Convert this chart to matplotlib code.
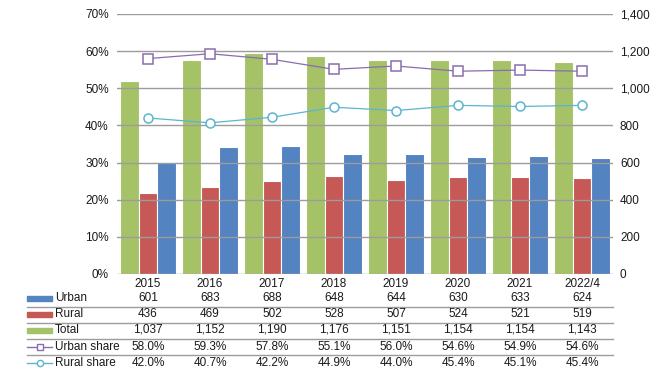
import numpy as np
import matplotlib.pyplot as plt
from matplotlib.patches import Rectangle
from matplotlib.lines import Line2D

plt.rcParams['font.family'] = ['Liberation Sans', 'DejaVu Sans']

years = ['2015', '2016', '2017', '2018', '2019', '2020', '2021', '2022/4']
urban = [601, 683, 688, 648, 644, 630, 633, 624]
rural = [436, 469, 502, 528, 507, 524, 521, 519]
total = [1037, 1152, 1190, 1176, 1151, 1154, 1154, 1143]
urban_share = [58.0, 59.3, 57.8, 55.1, 56.0, 54.6, 54.9, 54.6]
rural_share = [42.0, 40.7, 42.2, 44.9, 44.0, 45.4, 45.1, 45.4]

c_green = '#A5C267'
c_red = '#C65855'
c_blue = '#5383C0'
c_purple = '#8A6DAE'
c_teal = '#5BB5CF'
c_grid = '#9C9C9C'
c_text = '#1A1A1A'

W, H = 657, 379
fig = plt.figure(figsize=(W / 100, H / 100), dpi=100)
ax = fig.add_axes([117 / W, 1 - 274 / H, 496 / W, 260 / H])
ax2 = ax.twinx()

x = np.arange(len(years))
bw = 0.3
ax2.bar(x - bw, total, bw, color=c_green, edgecolor='white', linewidth=0.8)
ax2.bar(x, rural, bw, color=c_red, edgecolor='white', linewidth=0.8)
ax2.bar(x + bw, urban, bw, color=c_blue, edgecolor='white', linewidth=0.8)
ax2.set_ylim(0, 1400)
ax2.set_yticks(range(0, 1401, 200))
ax2.set_yticklabels([f'{v:,}' for v in range(0, 1401, 200)])

ax.set_ylim(0, 70)
ax.set_yticks(range(0, 71, 10))
ax.set_yticklabels([f'{v}%' for v in range(0, 71, 10)])
ax.set_xlim(-0.5, len(years) - 0.5)
ax.set_xticks([])
for v in range(0, 71, 10):
    ax.axhline(v, color=c_grid, lw=1, zorder=0)

# lines on top of bars
ax.set_zorder(ax2.get_zorder() + 1)
ax.patch.set_visible(False)
ax.plot(x, urban_share, color=c_purple, lw=0.9, marker='s', ms=6.5,
        mfc='white', mec=c_purple, mew=1.1)
ax.plot(x, rural_share, color=c_teal, lw=0.9, marker='o', ms=6.5,
        mfc='white', mec=c_teal, mew=1.1)

for a in (ax, ax2):
    for s in a.spines.values():
        s.set_visible(False)
    a.tick_params(length=0, labelsize=8.5, colors=c_text)
ax.tick_params(pad=6)
ax2.tick_params(pad=5)

# data table
def fy(py):
    return 1 - py / H

xs = [(117 + 31 + 62 * i) / W for i in range(len(years))]
for xi, yr in zip(xs, years):
    fig.text(xi, fy(284), yr, ha='center', va='center', fontsize=8.5, color=c_text)

rows = [
    ('Urban', [f'{v:,}' for v in urban], 'bar', c_blue, 298),
    ('Rural', [f'{v:,}' for v in rural], 'bar', c_red, 314),
    ('Total', [f'{v:,}' for v in total], 'bar', c_green, 330),
    ('Urban share', [f'{v:.1f}%' for v in urban_share], 's', c_purple, 347),
    ('Rural share', [f'{v:.1f}%' for v in rural_share], 'o', c_teal, 363),
]
for name, vals, kind, col, py in rows:
    if kind == 'bar':
        fig.patches.append(Rectangle((27 / W, fy(py + 2.5)), 25 / W, 5 / H,
                                     color=col, transform=fig.transFigure))
    else:
        fig.lines.append(Line2D([27 / W, 52 / W], [fy(py), fy(py)], color=col, lw=1,
                                transform=fig.transFigure))
        fig.lines.append(Line2D([39.5 / W], [fy(py)], color=col, marker=kind, ms=4.5,
                                mfc='white', mec=col, mew=1, transform=fig.transFigure))
    fig.text(55 / W, fy(py), name, ha='left', va='center', fontsize=8.5, color=c_text)
    for xi, v in zip(xs, vals):
        fig.text(xi, fy(py), v, ha='center', va='center', fontsize=8.5, color=c_text)

for py in (306.5, 322.5, 339, 355):
    fig.lines.append(Line2D([27 / W, 613 / W], [fy(py), fy(py)], color=c_grid, lw=1,
                            transform=fig.transFigure))

fig.savefig('out.png', dpi=100)
